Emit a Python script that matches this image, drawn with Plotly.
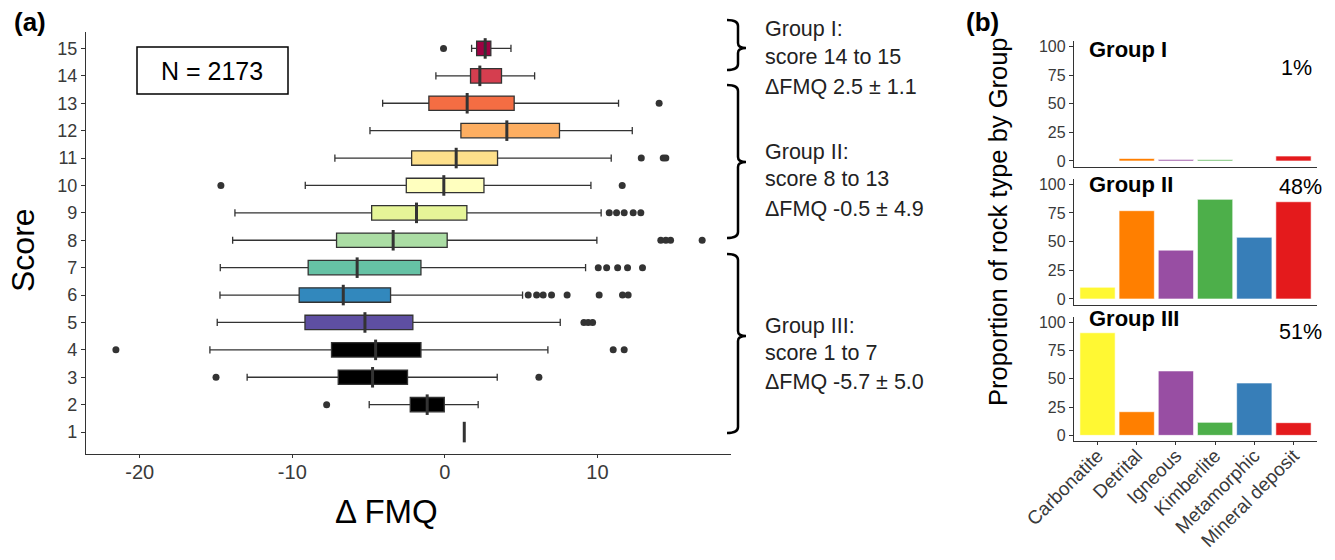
import plotly.graph_objects as go

# ---------------- Data: panel (a) box plots, by score 1..15 ----------------
scores = list(range(1, 16))
q1 = [1.27, -2.27, -6.99, -7.43, -9.17, -9.55, -8.96, -7.10, -4.80, -2.53, -2.18, 1.05, -1.05, 1.68, 2.08]
median = [1.27, -1.16, -4.74, -4.54, -5.24, -6.66, -5.75, -3.39, -1.86, -0.07, 0.74, 4.06, 1.46, 2.29, 2.64]
q3 = [1.27, -0.04, -2.45, -1.57, -2.10, -3.56, -1.57, 0.15, 1.44, 2.56, 3.45, 7.51, 4.54, 3.71, 3.01]
lower = [1.27, -4.96, -12.96, -15.40, -14.92, -14.74, -14.72, -13.91, -13.76, -9.15, -7.21, -4.91, -4.08, -0.59, 1.75]
upper = [1.27, 2.18, 3.43, 6.75, 7.56, 5.09, 9.22, 9.96, 10.24, 9.57, 10.90, 12.28, 11.38, 5.88, 4.33]
score_colors = ['#000000', '#000000', '#000000', '#000000', '#5E4FA2', '#3288BD', '#66C2A5',
                '#ABDDA4', '#E6F598', '#FFFFBF', '#FEE08B', '#FDAE61', '#F46D43', '#D53E4F', '#9E0142']

outlier_scores = [15, 13, 11, 11, 11, 10, 10, 9, 9, 9, 9, 9, 8, 8, 8, 8,
                  7, 7, 7, 7, 7, 6, 6, 6, 6, 6, 6, 6, 6, 5, 5, 5, 4, 4, 4, 3, 3, 2]
outlier_values = [-0.09, 14.04, 12.87, 14.31, 14.48, -14.68, 11.62,
                  10.77, 11.25, 11.75, 12.34, 12.84, 14.15, 14.48, 14.79, 16.86,
                  10.05, 10.60, 11.32, 11.97, 12.95,
                  5.46, 6.01, 6.44, 6.99, 8.01, 10.11, 11.64, 12.01,
                  9.11, 9.39, 9.68, -21.56, 11.03, 11.75, -15.00, 6.16, -7.75]

x_ticks = [-20, -10, 0, 10]
x_ticklabels = ['-20', '-10', '0', '10']

# ---------------- Data: panel (b) bar charts ----------------
rock_types = ['Carbonatite', 'Detrital', 'Igneous', 'Kimberlite', 'Metamorphic', 'Mineral deposit']
rock_colors = ['#FFF833', '#FF7F00', '#984EA3', '#4DAF4A', '#377EB8', '#E41A1C']
group_names = ['Group I', 'Group II', 'Group III']
group_share = ['1%', '48%', '51%']
group1 = [0.0, 2.2, 1.2, 1.0, 0.0, 4.3]
group2 = [10.2, 77.0, 42.6, 86.9, 53.8, 84.8]
group3 = [90.8, 20.9, 57.0, 11.5, 46.3, 11.2]
bar_ticks = [0, 25, 50, 75, 100]

W, H = 1335, 560
def fx(p):
    return p / W
def fy(p):
    return 1 - p / H

FONT = 'Liberation Sans, Arial, sans-serif'
TICKC = '#3A3A3A'
LINEC = '#333333'

fig = go.Figure()

# Box plots
BW = 0.375
for i, s in enumerate(scores):
    fig.add_trace(go.Box(
        y=[s], q1=[q1[i]], median=[median[i]], q3=[q3[i]],
        lowerfence=[lower[i]], upperfence=[upper[i]],
        orientation='h', fillcolor=score_colors[i],
        line=dict(color=LINEC, width=1.3), boxpoints=False,
        showlegend=False, hoverinfo='skip', xaxis='x', yaxis='y'))

# thicker median lines (ggplot style)
mx, my = [], []
for i, s in enumerate(scores):
    mx += [median[i], median[i], None]
    my += [s - BW, s + BW, None]
fig.add_trace(go.Scatter(x=mx, y=my, mode='lines', line=dict(color=LINEC, width=3),
                         showlegend=False, hoverinfo='skip', xaxis='x', yaxis='y'))

fig.add_trace(go.Scatter(x=outlier_values, y=outlier_scores, mode='markers',
                         marker=dict(color=LINEC, size=7), showlegend=False,
                         hoverinfo='skip', xaxis='x', yaxis='y'))

# Bars
groups = [group1, group2, group3]
for g, vals in enumerate(groups):
    fig.add_trace(go.Bar(x=rock_types, y=vals, marker=dict(color=rock_colors, line=dict(color='white', width=0.6)),
                         width=0.9, showlegend=False, hoverinfo='skip',
                         xaxis='x%d' % (g + 2), yaxis='y%d' % (g + 2)))

axis_common = dict(showgrid=False, zeroline=False, showline=True, linecolor=LINEC, linewidth=1.3,
                   ticks='outside', tickcolor=LINEC, automargin=False)

bar_dom_x = [fx(1074), fx(1317)]
bar_dom_y = [[fy(166.7), fy(41)], [fy(304.7), fy(178.6)], [fy(441), fy(316.7)]]

layout = dict(
    template='none',
    width=W, height=H, margin=dict(l=0, r=0, t=0, b=0, autoexpand=False),
    paper_bgcolor='white', plot_bgcolor='white',
    boxmode='overlay', boxgap=0.25, bargap=0.1,
    font=dict(family=FONT),
    xaxis=dict(domain=[fx(86), fx(731)], range=[-23.52, 18.75], tickvals=x_ticks, ticktext=x_ticklabels,
               anchor='y', ticklen=3, ticklabelstandoff=-3,
               tickfont=dict(family=FONT, color=TICKC, size=20), **axis_common),
    yaxis=dict(domain=[fy(454), fy(32)], range=[0.2, 15.6], tickvals=scores, ticklen=4,
               anchor='x', tickfont=dict(family=FONT, color=TICKC, size=18), **axis_common),
)
for g in range(3):
    xa = dict(domain=bar_dom_x, type='category', range=[-0.6, 5.6], anchor='y%d' % (g + 2), ticklen=3,
              tickfont=dict(family=FONT, color=TICKC, size=19), **axis_common)
    if g < 2:
        xa.update(showticklabels=False, ticks='')
    else:
        xa.update(tickangle=-45, ticklabelstandoff=-8)
    ya = dict(domain=bar_dom_y[g], range=[-5, 105], tickvals=bar_ticks, anchor='x%d' % (g + 2), ticklen=4,
              tickfont=dict(family=FONT, color=TICKC, size=16), **axis_common)
    layout['xaxis%d' % (g + 2)] = xa
    layout['yaxis%d' % (g + 2)] = ya

annotations = []
def ann(text, px, py, size, xanchor='center', bold=False, angle=0, color='black'):
    if bold:
        text = '<b>' + text + '</b>'
    annotations.append(dict(text=text, x=fx(px), y=fy(py), xref='paper', yref='paper',
                            xanchor=xanchor, yanchor='middle', showarrow=False, textangle=angle,
                            font=dict(family=FONT, size=size, color=color)))

ann('(a)', 30, 22, 26, bold=True)
ann('(b)', 982, 22, 26, bold=True)
ann('Score', 23, 250, 32, angle=-90)
ann('Δ FMQ', 386, 511, 33)
ann('Proportion of rock type by Group', 998, 222, 25.5, angle=-90)
ann('N = 2173', 212, 71, 25)

# group texts
group_text = [
    ('Group I:', 29), ('score 14 to 15', 57), ('ΔFMQ 2.5 ± 1.1', 87),
    ('Group II:', 152), ('score 8 to 13', 179), ('ΔFMQ -0.5 ± 4.9', 209),
    ('Group III:', 326), ('score 1 to 7', 353), ('ΔFMQ -5.7 ± 5.0', 382),
]
for t, py in group_text:
    ann(t, 763, py, 21.5, xanchor='left', color='#222222')

# facet labels
for name, py in zip(group_names, [49, 185, 318]):
    ann(name, 1087, py, 22, xanchor='left', bold=True)
for share, (px, py) in zip(group_share, [(1296, 68), (1300, 187), (1300, 332)]):
    ann(share, px, py, 21.5)

layout['annotations'] = annotations

# shapes: N box and braces
shapes = [dict(type='rect', xref='paper', yref='paper', x0=fx(137), x1=fx(288), y0=fy(47), y1=fy(94),
               line=dict(color='black', width=1.5))]
def brace(top, mid, bot, xl=727, xv=738, xt=746):
    pts = [
        (xl, top), (xv, top), (xv, top + 6), (xv, mid - 5), (xv, mid), (xt, mid),
        (xv, mid), (xv, mid + 5), (xv, bot - 6), (xv, bot), (xl, bot)]
    P = lambda p: '%f,%f' % (fx(p[0]), fy(p[1]))
    path = ('M ' + P(pts[0]) + ' Q ' + P(pts[1]) + ' ' + P(pts[2]) + ' L ' + P(pts[3]) +
            ' Q ' + P(pts[4]) + ' ' + P(pts[5]) + ' Q ' + P(pts[6]) + ' ' + P(pts[7]) +
            ' L ' + P(pts[8]) + ' Q ' + P(pts[9]) + ' ' + P(pts[10]))
    return dict(type='path', xref='paper', yref='paper', path=path, line=dict(color='black', width=2.5))

shapes.append(brace(20, 48, 70))
shapes.append(brace(85, 162, 238))
shapes.append(brace(254, 336, 433))
layout['shapes'] = shapes

fig.update_layout(**layout)
fig.write_html('out.html')
